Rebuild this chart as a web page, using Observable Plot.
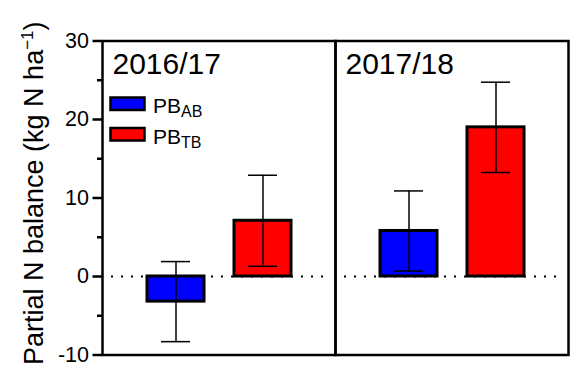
<!DOCTYPE html>
<html>
<head>
<meta charset="utf-8">
<script src="https://cdn.jsdelivr.net/npm/d3@7"></script>
<script src="https://cdn.jsdelivr.net/npm/@observablehq/plot@0.6"></script>
<style>
  body { margin: 0; background: #fff; }
  svg { font-family: "Liberation Sans", Arial, sans-serif; }
</style>
</head>
<body>
<div id="chart"></div>
<script>
// Partial N balance per season, two treatments (mean ± error)
const seasons = ["2016/17", "2017/18"];
const treatments = ["AB", "TB"];
const meanAB = [-3.2, 5.8];
const meanTB = [7.1, 19.0];
const errAB = [5.1, 5.1];
const errTB = [5.8, 5.75];
const yTicks = [-10, 0, 10, 20, 30];
const yMinorTicks = [-5, 5, 15, 25];
const colors = ["#0000ff", "#ff0000"];
const legendLabels = ["PB", "PB"];

const rows = seasons.flatMap((s, i) => [
  {season: s, trt: treatments[0], mean: meanAB[i], err: errAB[i]},
  {season: s, trt: treatments[1], mean: meanTB[i], err: errTB[i]}
]);

const chart = Plot.plot({
  width: 571,
  height: 383,
  marginLeft: 102,
  marginRight: 3,
  marginTop: 40.5,
  marginBottom: 28.5,
  style: {fontFamily: "'Liberation Sans', Arial, sans-serif", color: "#000", background: "#fff"},
  fx: {domain: seasons, padding: 0, axis: null},
  x: {domain: treatments, paddingInner: 0.35, paddingOuter: 0.51, axis: null},
  y: {domain: [-10, 30]},
  color: {domain: treatments, range: colors},
  marks: [
    // dotted zero reference line
    Plot.ruleY([0], {stroke: "#000", strokeWidth: 2.2, strokeDasharray: "2,8", insetLeft: 9, insetRight: 8}),
    Plot.barY(rows, {fx: "season", x: "trt", y1: 0, y2: "mean", fill: "trt", stroke: "#000", strokeWidth: 3}),
    // error bars
    Plot.ruleX(rows, {fx: "season", x: "trt", y1: d => d.mean - d.err, y2: d => d.mean + d.err, stroke: "#000", strokeWidth: 1.5}),
    Plot.tickY(rows, {fx: "season", x: "trt", y: d => d.mean + d.err, insetLeft: 14, insetRight: 14, stroke: "#000", strokeWidth: 1.5}),
    Plot.tickY(rows, {fx: "season", x: "trt", y: d => d.mean - d.err, insetLeft: 14, insetRight: 14, stroke: "#000", strokeWidth: 1.5}),
    // season titles
    Plot.text(seasons, {fx: d => d, text: d => d, frameAnchor: "top-left", textAnchor: "start", lineAnchor: "top", dx: 10, dy: 12, fontSize: 30, fill: "#000"}),
    Plot.frame({stroke: "#000", strokeWidth: 2.5}),
    Plot.axisY(yTicks, {anchor: "left", tickSize: 9.5, tickPadding: 4, strokeWidth: 2.5, fontSize: 21.5, label: null, tickFormat: d => String(d)}),
    Plot.axisY(yMinorTicks, {anchor: "left", tickSize: 5, strokeWidth: 2.5, label: null, tickFormat: () => ""})
  ]
});

document.getElementById("chart").appendChild(chart);

const svg = d3.select(chart);

// legend with subscripted treatment names
const legend = svg.append("g")
  .attr("font-family", "'Liberation Sans', Arial, sans-serif")
  .attr("text-anchor", "start");
treatments.forEach((t, i) => {
  const y0 = 97.5 + i * 30.5;
  legend.append("rect")
    .attr("x", 110.5).attr("y", y0)
    .attr("width", 34).attr("height", 12.5)
    .attr("fill", colors[i]).attr("stroke", "#000").attr("stroke-width", 2.5);
  const txt = legend.append("text")
    .attr("x", 153).attr("y", y0 + 15.8)
    .attr("font-size", 21).attr("fill", "#000");
  txt.append("tspan").text(legendLabels[i]);
  txt.append("tspan").attr("font-size", 16).attr("dy", 4).text(t);
});

// rotated y-axis title with superscript exponent
const title = svg.append("text")
  .attr("transform", "translate(43,365) rotate(-90)")
  .attr("text-anchor", "start")
  .attr("font-size", 27)
  .attr("fill", "#000")
  .attr("font-family", "'Liberation Sans', Arial, sans-serif");
title.append("tspan").text("Partial N balance (kg N ha");
title.append("tspan").attr("font-size", 17).attr("dy", -10).text("\u22121");
title.append("tspan").attr("dy", 10).text(")");
</script>
</body>
</html>
